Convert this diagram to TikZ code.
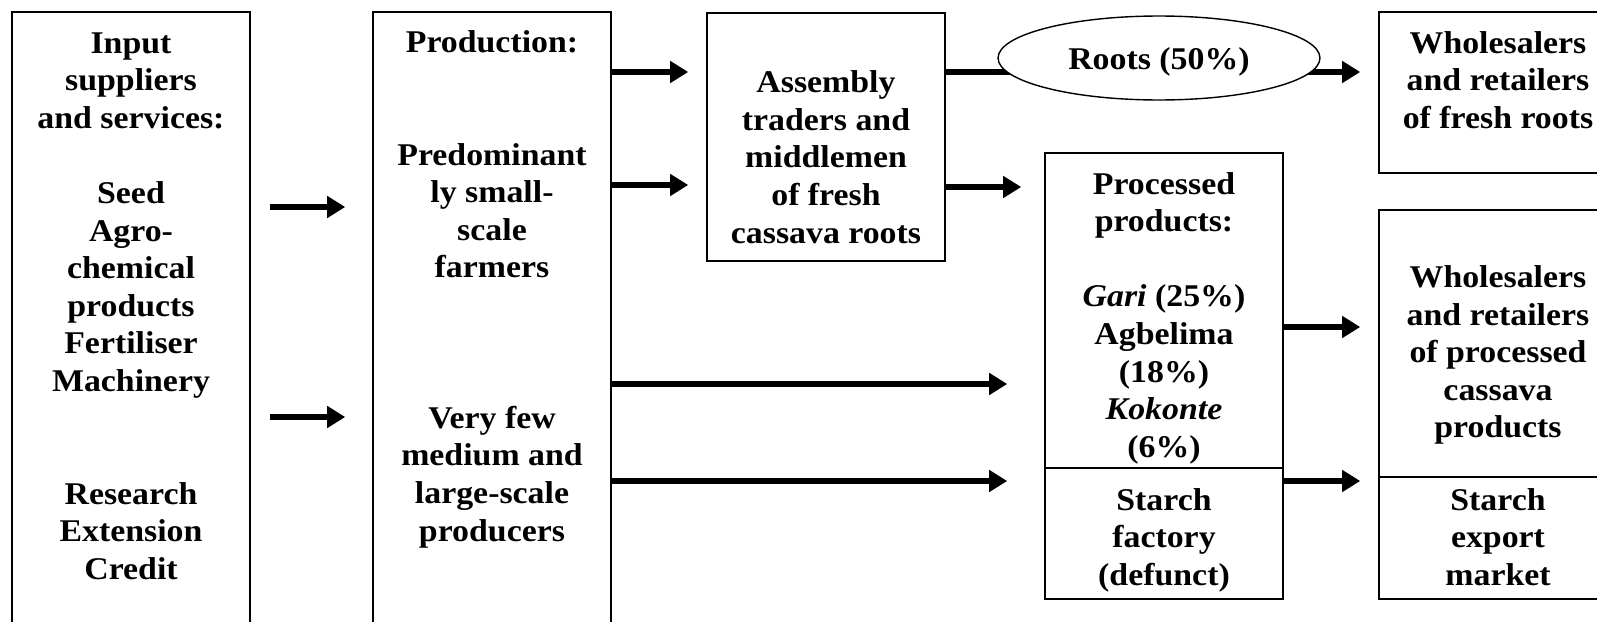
\documentclass[tikz,border=0pt]{standalone}
\usepackage{fontspec}
\setmainfont{Liberation Serif}[FakeStretch=1.07]
\usetikzlibrary{arrows.meta,shapes.geometric,fit}
\tikzset{>={Triangle[length=0.36cm,width=0.42cm]}}
\tikzset{
  frame/.style={draw, line width=0.9pt, inner sep=0pt, fit={#1}},
  lbl/.style={align=center, inner sep=0pt, font=\fontsize{18}{21.4}\selectfont\bfseries},
  flow/.style={->, line width=3.3pt},
}

\begin{document}
\begin{tikzpicture}[x=0.02cm, y=-0.02cm]
  \useasboundingbox (0,0) rectangle (1597,622);
  % boxes
  \node[frame={(12,12) (250,640)}] (inputF) {};
  \node[frame={(373,12) (611,640)}] (prodF) {};
  \node[frame={(707,13) (945,261)}] (assemblyF) {};
  \node[frame={(1045,153) (1283,468)}] (procF) {};
  \node[frame={(1045,468) (1283,599)}] (starchF) {};
  \node[frame={(1379,12) (1617,173)}] (freshF) {};
  \node[frame={(1379,210) (1617,477)}] (wprocF) {};
  \node[frame={(1379,477) (1617,599)}] (exportF) {};

  % texts
  \node[lbl] (inputT) at (131,306) {Input\\suppliers\\and services:\\[21.4pt]Seed\\Agro-\\chemical\\products\\Fertiliser\\Machinery\\[42.8pt]Research\\Extension\\Credit};
  \node[lbl] (prodT) at (492,289) {Production:\\[42.8pt]Predominant\\ly small-\\scale\\farmers\\[64.2pt]Very few\\medium and\\large-scale\\producers};
  \node[lbl] (assemblyT) at (826,157) {Assembly\\traders and\\middlemen\\of fresh\\cassava roots};
  \node[lbl] (procT) at (1164,318) {Processed\\products:\\[21.4pt]\textit{Gari} (25\%)\\Agbelima\\(18\%)\\\textit{Kokonte}\\(6\%)};
  \node[lbl] (starchT) at (1164,540) {Starch\\factory\\(defunct)};
  \node[lbl] (freshT) at (1498,80) {Wholesalers\\and retailers\\of fresh roots};
  \node[lbl] (wprocT) at (1498,355) {Wholesalers\\and retailers\\of processed\\cassava\\products};
  \node[lbl] (exportT) at (1498,537) {Starch\\export\\market};

  % flows
  \draw[flow, shorten <=0.38cm, shorten >=0.54cm] (inputF.east |- 0,207) -- (prodF.west |- 0,207);
  \draw[flow, shorten <=0.38cm, shorten >=0.54cm] (inputF.east |- 0,417) -- (prodF.west |- 0,417);
  \draw[flow, shorten >=0.36cm] (prodF.east |- 0,72) -- (assemblyF.west |- 0,72);
  \draw[flow, shorten >=0.36cm] (prodF.east |- 0,185) -- (assemblyF.west |- 0,185);
  \draw[flow, shorten >=0.74cm] (prodF.east |- 0,384) -- (procF.west |- 0,384);
  \draw[flow, shorten >=0.74cm] (prodF.east |- 0,481) -- (starchF.west |- 0,481);
  \draw[flow, shorten >=0.46cm] (assemblyF.east |- 0,187) -- (procF.west |- 0,187);
  \draw[flow, shorten >=0.36cm] (assemblyF.east |- 0,72) -- (freshF.west |- 0,72);
  \draw[flow, shorten >=0.36cm] (procF.east |- 0,327) -- (wprocF.west |- 0,327);
  \draw[flow, shorten >=0.36cm] (starchF.east |- 0,481) -- (exportF.west |- 0,481);

  % share of roots sold fresh
  \node[ellipse, draw, fill=white, line width=0.8pt, inner sep=0pt,
        minimum width=6.44cm, minimum height=1.68cm] (roots) at (1159,58) {};
  \node[lbl] (rootsT) at ([yshift=-0.08cm]roots.center) {Roots (50\%)};
\end{tikzpicture}
\end{document}
